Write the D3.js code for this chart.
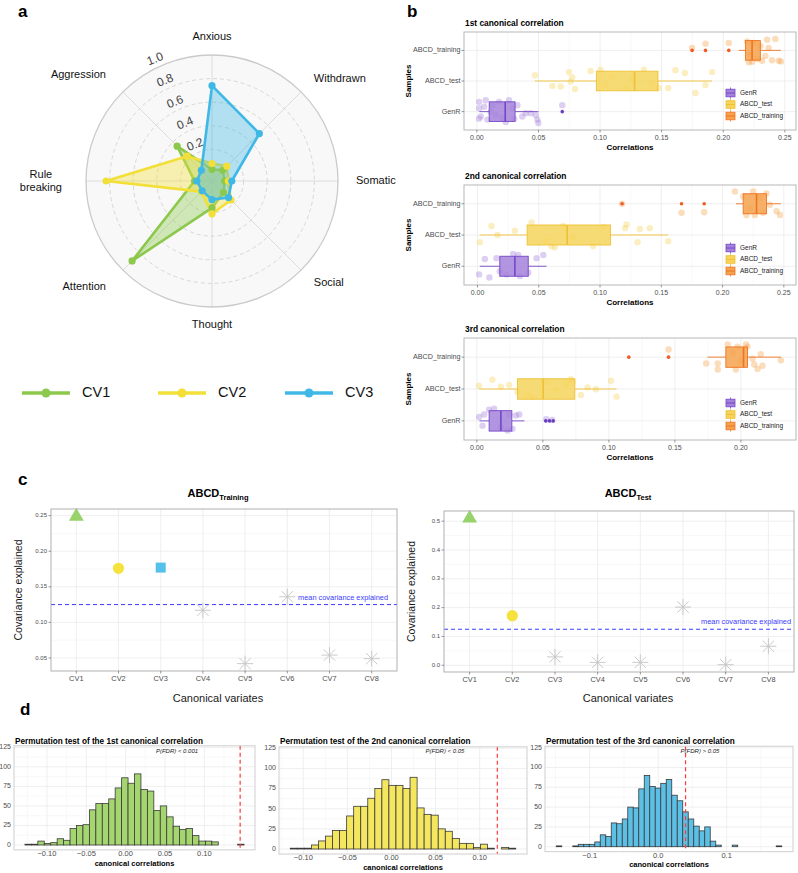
<!DOCTYPE html>
<html>
<head>
<meta charset="utf-8">
<script src="https://cdn.jsdelivr.net/npm/d3@7/dist/d3.min.js"></script>
<style>
html,body{margin:0;padding:0;background:#fff;}
svg{display:block;font-family:"Liberation Sans",Arial,Helvetica,sans-serif;}
</style>
</head>
<body>
<svg id="fig" width="798" height="873"></svg>
<script>
// ================= DATA =================
// (a) radar loadings
const radarAxes = ["Anxious","Withdrawn","Somatic","Social","Thought","Attention","Rule breaking","Aggression"];
const radarCV1 = [0.03,0.06,0.04,0.07,0.16,0.89,0.08,0.35];
const radarCV2 = [0.08,0.11,0.07,0.16,0.21,0.06,0.83,0.23];
const radarCV3 = [0.74,0.50,0.10,0.13,0.09,0.05,0.06,0.06];
const radarTicks = [0.2,0.4,0.6,0.8,1.0];
const radarSeries = ["CV1","CV2","CV3"];

// (b) canonical correlations by sample
const sampleGroups = ["GenR","ABCD_test","ABCD_training"];
const ccTitles = ["1st canonical correlation","2nd canonical correlation","3rd canonical correlation"];
// box stats: [whiskerLow, Q1, median, Q3, whiskerHigh], order = sampleGroups
const cc1Box = [[0.002,0.010,0.023,0.031,0.050],[0.047,0.097,0.128,0.147,0.191],[0.2126,0.218,0.2234,0.2301,0.2468]];
const cc2Box = [[0.0019,0.0182,0.0305,0.0414,0.0563],[0.0019,0.0405,0.0732,0.1086,0.1556],[0.2109,0.2168,0.2277,0.2358,0.2476]];
const cc3Box = [[0.002,0.0093,0.0182,0.0265,0.036],[0.0017,0.0308,0.0502,0.0742,0.1058],[0.1747,0.1886,0.2020,0.2050,0.2303]];
const cc1Outliers = [[0.0693],[],[0.1747,0.1856,0.2045]];
const cc2Outliers = [[],[],[0.1180,0.1665,0.1850]];
const cc3Outliers = [[0.0522,0.0550,0.0578],[],[0.1151,0.1452]];
// jittered observations: [correlation, vertical jitter in category steps]
const cc1Points = [
 [[.0018,-.32],[.0018,-.11],[.0032,.16],[.0018,.23],[.0072,-.37],[.0086,.26],[.0126,-.21],[.0153,.11],[.0180,-.32],[.0207,.21],[.0234,.34],[.0261,-.37],[.0288,-.11],[.0302,.23],[.0329,-.21],[.0369,.16],[.0396,.05],[.0437,.05],[.0477,.11],[.0491,.26],[.0499,.37],[.0693,-.21],[.0113,0],[.0059,-.16]],
 [[.0472,-.19],[.0748,-.29],[.0775,-.12],[.0761,.02],[.0613,.16],[.0680,.18],[.0797,.26],[.0923,-.33],[.1004,-.37],[.1099,-.14],[.1261,-.05],[.1356,-.37],[.1423,.07],[.1477,.23],[.1553,.23],[.1612,-.35],[.1688,-.26],[.1774,.39],[.1856,.13],[.1910,-.29],[.1207,.23],[.1045,.13]],
 [[.1747,-.08],[.1856,-.22],[.2045,-.24],[.2194,-.29],[.2207,.39],[.2234,.37],[.2275,.28],[.2315,.34],[.2356,-.35],[.2369,-.08],[.2396,.32],[.2423,-.37],[.2450,.34],[.2468,.36],[.2248,-.24],[.2302,-.14],[.2221,.13],[.2342,.18]]
];
const cc2Points = [
 [[.0060,-.23],[.0155,-.26],[.0291,-.39],[.0332,-.36],[.0482,-.26],[.0537,-.36],[.0013,.26],[.0097,.36],[.0182,.16],[.0236,.26],[.0414,.21],[.0346,.31]],
 [[.0019,.23],[.0114,-.29],[.0163,0],[.0305,-.14],[.0441,-.40],[.0604,.36],[.0631,.39],[.0699,-.29],[.0780,.07],[.0944,.36],[.1031,-.26],[.1216,-.34],[.1205,-.22],[.1306,.23],[.1325,-.19],[.1406,-.22],[.1556,.20],[.0563,.18]],
 [[.2101,-.39],[.2168,-.23],[.2250,-.39],[.2358,-.33],[.2386,.03],[.2441,.24],[.2468,.36],[.2195,.36],[.2263,.36],[.2331,.29],[.2222,.14],[.2304,-.18],[.1665,.29],[.1850,.27],[.1180,0]]
];
const cc3Points = [
 [[.0093,-.35],[.0131,-.38],[.0017,-.12],[.0055,-.20],[.0245,-.19],[.0295,-.17],[.0321,-.20],[.0182,.2],[.0232,.3],[.0043,.15],[.0270,.25],[.0526,-.05],[.0571,-.03]],
 [[.0017,-.10],[.0118,-.29],[.0182,-.07],[.0245,-.13],[.0308,.09],[.0384,.19],[.0422,.24],[.0523,-.23],[.0599,.03],[.0675,-.16],[.0712,-.31],[.0725,-.23],[.0788,.19],[.0839,-.05],[.0902,.01],[.1016,-.26],[.1058,.24]],
 [[.1452,-.24],[.1737,.20],[.1825,.20],[.1825,.39],[.1900,-.40],[.1937,-.14],[.1975,-.33],[.2038,-.40],[.2050,-.33],[.2088,.05],[.2101,.23],[.2126,.37],[.2151,-.09],[.2164,.27],[.2303,.10],[.1962,.39],[.2000,.13]]
];
const cc12Ticks = [0,0.05,0.10,0.15,0.20,0.25];
const cc3Ticks = [0,0.05,0.10,0.15,0.20];

// (c) covariance explained
const cvLabels = ["CV1","CV2","CV3","CV4","CV5","CV6","CV7","CV8"];
const covTraining = [0.249,0.176,0.177,0.117,0.042,0.136,0.054,0.049];
const covTest = [0.510,0.172,0.029,0.010,0.010,0.202,0.002,0.066];
const trainingShapes = ["triangle","circle","square","star","star","star","star","star"];
const testShapes = ["triangle","circle","star","star","star","star","star","star"];
const meanCovariance = 0.125;
const covTrainTicks = [0.05,0.10,0.15,0.20,0.25];
const covTestTicks = [0.0,0.1,0.2,0.3,0.4,0.5];

// (d) permutation distributions (1000 permutations each)
const permTitles = ["Permutation test of the 1st canonical correlation","Permutation test of the 2nd canonical correlation","Permutation test of the 3rd canonical correlation"];
const perm1Start = -0.128, perm1Width = 0.00819;
const perm1Counts = [1,1,5,2,3,8,6,21,25,26,45,53,53,59,73,86,79,91,71,69,44,50,36,24,20,21,12,5,5,4,0,0,0,1];
const perm2Start = -0.1148, perm2Width = 0.00799;
const perm2Counts = [1,1,1,5,10,16,23,23,41,53,53,63,75,86,79,79,75,89,51,43,42,25,22,13,7,7,2,6,1,0,2,1];
const perm3Start = -0.1488, perm3Width = 0.00803;
const perm3Counts = [1,0,0,1,3,3,3,6,15,13,30,29,35,50,49,73,90,76,74,80,85,65,58,44,35,26,20,25,7,2,0,0,2,0,0,0,0,0,0,0,1];
const permObserved = [0.1455,0.120,0.040];
const permPLabels = ["P(FDR) < 0.001","P(FDR) < 0.05","P(FDR) > 0.05"];
const perm12Ticks = [-0.10,-0.05,0,0.05,0.10];
const perm3Ticks = [-0.1,0,0.1];
const countTicks = [0,25,50,75,100,125];

// ================= STYLE =================
const svg = d3.select("#fig");
const CV_COL = ["#8cc84b","#f2df38","#3fb8e6"];
const GRP_FILL = ["#a582da","#f5d35c","#f5a24c"];
const GRP_STROKE = ["#7446c6","#efc133","#ef7424"];
const GRP_OUT = ["#6a3ec0","#e8b21e","#f05a24"];
const AXIS_TXT = "#4d4d4d";
const GRID = "#ebebeb", GRID_MINOR = "#f4f4f4";

function txt(g, x, y, s, o = {}) {
  const t = g.append("text").attr("x", x).attr("y", y).text(s)
    .attr("font-size", o.size || 10).attr("fill", o.fill || "#000")
    .attr("text-anchor", o.anchor || "start");
  if (o.weight) t.attr("font-weight", o.weight);
  if (o.style) t.attr("font-style", o.style);
  if (o.base) t.attr("dominant-baseline", o.base);
  if (o.rotate !== undefined) t.attr("transform", `rotate(${o.rotate},${x},${y})`);
  return t;
}

// panel letters
txt(svg, 18, 17, "a", {size: 17, weight: "bold"});
txt(svg, 407, 17, "b", {size: 17, weight: "bold"});
txt(svg, 18, 485, "c", {size: 17, weight: "bold"});
txt(svg, 20, 715, "d", {size: 17, weight: "bold"});

// ================= (a) RADAR =================
(function () {
  const g = svg.append("g");
  const cx = 212, cy = 181, R = 126;
  const r = d3.scaleLinear().domain([0, 1]).range([8, R]);
  const n = radarAxes.length;
  const ang = i => i * 2 * Math.PI / n;
  g.append("circle").attr("cx", cx).attr("cy", cy).attr("r", r(1))
    .attr("fill", "#f8f8f8").attr("stroke", "none");
  radarTicks.slice(0, -1).forEach(t => {
    g.append("circle").attr("cx", cx).attr("cy", cy).attr("r", r(t))
      .attr("fill", "none").attr("stroke", "#d2d2d2").attr("stroke-width", 0.9)
      .attr("stroke-dasharray", "4,3");
  });
  radarAxes.forEach((d, i) => {
    g.append("line").attr("x1", cx).attr("y1", cy)
      .attr("x2", cx + r(1) * Math.sin(ang(i))).attr("y2", cy - r(1) * Math.cos(ang(i)))
      .attr("stroke", "#dcdcdc").attr("stroke-width", 1);
  });
  g.append("circle").attr("cx", cx).attr("cy", cy).attr("r", r(1))
    .attr("fill", "none").attr("stroke", "#cacaca").attr("stroke-width", 1.3);
  // tick labels
  const ta = -25 * Math.PI / 180;
  radarTicks.forEach(t => {
    const rr = r(t) + 8;
    const x = cx + rr * Math.sin(ta), y = cy - rr * Math.cos(ta);
    txt(g, x, y, d3.format(".1f")(t), {size: 12, fill: "#444", anchor: "middle", base: "middle", rotate: -22});
  });
  // series
  const series = [radarCV1, radarCV2, radarCV3];
  const line = d3.lineRadial().angle((d, i) => ang(i)).radius(d => r(d)).curve(d3.curveLinearClosed);
  series.forEach((s, k) => {
    g.append("path").attr("d", line(s)).attr("transform", `translate(${cx},${cy})`)
      .attr("fill", CV_COL[k]).attr("fill-opacity", 0.38)
      .attr("stroke", CV_COL[k]).attr("stroke-width", 2.6).attr("stroke-linejoin", "round");
  });
  series.forEach((s, k) => {
    g.selectAll(null).data(s).enter().append("circle")
      .attr("cx", (d, i) => cx + r(d) * Math.sin(ang(i)))
      .attr("cy", (d, i) => cy - r(d) * Math.cos(ang(i)))
      .attr("r", 3.6).attr("fill", CV_COL[k]);
  });
  // axis labels
  radarAxes.forEach((lab, i) => {
    const s = Math.sin(ang(i)), c = Math.cos(ang(i));
    const left = s < -0.1, right = s > 0.1;
    const rl = left ? R + 24 : R + 18;
    const x = cx + rl * s, y = cy - rl * c;
    const parts = lab.split(" ");
    if (parts.length > 1 && left) {
      const t = g.append("text").attr("font-size", 11).attr("text-anchor", "middle").attr("fill", "#111");
      parts.forEach((p, j) => t.append("tspan").attr("x", 0).attr("y", y + (j - (parts.length - 1) / 2) * 13).attr("dy", "0.35em").text(p));
      const w = d3.max(t.selectAll("tspan").nodes(), nd => nd.getComputedTextLength());
      t.selectAll("tspan").attr("x", x - w / 2);
    } else {
      txt(g, x, y, lab, {size: 11, fill: "#111", anchor: left ? "end" : (right ? "start" : "middle"), base: "middle"});
    }
  });
  // legend
  const lx = [22, 158, 285], ly = 393;
  radarSeries.forEach((nm, k) => {
    g.append("line").attr("x1", lx[k]).attr("x2", lx[k] + 48).attr("y1", ly).attr("y2", ly)
      .attr("stroke", CV_COL[k]).attr("stroke-width", 3.5);
    g.append("circle").attr("cx", lx[k] + 24).attr("cy", ly).attr("r", 4.5).attr("fill", CV_COL[k]);
    txt(g, lx[k] + 60, ly, nm, {size: 14.5, fill: "#111", base: "middle"});
  });
})();

// ================= (b) BOX PLOTS =================
function drawBoxChart(title, top, bottom, boxes, outliers, points, ticks) {
  const g = svg.append("g");
  const left = 464, right = 796;
  const all = [].concat(...boxes, ...outliers, ...points.map(gp => gp.map(p => p[0])));
  const ext = d3.extent(all), pad = (ext[1] - ext[0]) * 0.05;
  const x = d3.scaleLinear().domain([ext[0] - pad, ext[1] + pad]).range([left, right]);
  const y = d3.scalePoint().domain(sampleGroups.slice().reverse()).range([top, bottom]).padding(0.6);
  const step = y.step();
  // grid
  ticks.forEach((t, i) => {
    if (i < ticks.length - 1) {
      const m = (t + ticks[i + 1]) / 2;
      g.append("line").attr("x1", x(m)).attr("x2", x(m)).attr("y1", top).attr("y2", bottom).attr("stroke", GRID_MINOR).attr("stroke-width", 0.6);
    }
    g.append("line").attr("x1", x(t)).attr("x2", x(t)).attr("y1", top).attr("y2", bottom).attr("stroke", GRID).attr("stroke-width", 0.8);
  });
  sampleGroups.forEach(s => g.append("line").attr("x1", left).attr("x2", right).attr("y1", y(s)).attr("y2", y(s)).attr("stroke", GRID).attr("stroke-width", 0.8));
  // jitter points
  points.forEach((gp, k) => {
    g.selectAll(null).data(gp).enter().append("circle")
      .attr("cx", d => x(d[0])).attr("cy", d => y(sampleGroups[k]) + d[1] * step)
      .attr("r", 3.2).attr("fill", GRP_FILL[k]).attr("fill-opacity", 0.38);
  });
  // boxes
  const bh = step * 0.32;
  boxes.forEach((b, k) => {
    const cy = y(sampleGroups[k]);
    g.append("line").attr("x1", x(b[0])).attr("x2", x(b[1])).attr("y1", cy).attr("y2", cy).attr("stroke", GRP_STROKE[k]).attr("stroke-width", 0.9);
    g.append("line").attr("x1", x(b[3])).attr("x2", x(b[4])).attr("y1", cy).attr("y2", cy).attr("stroke", GRP_STROKE[k]).attr("stroke-width", 0.9);
    g.append("rect").attr("x", x(b[1])).attr("y", cy - bh).attr("width", x(b[3]) - x(b[1])).attr("height", 2 * bh)
      .attr("fill", GRP_FILL[k]).attr("fill-opacity", 0.85).attr("stroke", GRP_STROKE[k]).attr("stroke-width", 0.9);
    g.append("line").attr("x1", x(b[2])).attr("x2", x(b[2])).attr("y1", cy - bh).attr("y2", cy + bh).attr("stroke", GRP_STROKE[k]).attr("stroke-width", 1.6);
    outliers[k].forEach(o => g.append("circle").attr("cx", x(o)).attr("cy", cy).attr("r", 1.8).attr("fill", GRP_OUT[k]));
  });
  // border
  g.append("rect").attr("x", left).attr("y", top).attr("width", right - left).attr("height", bottom - top)
    .attr("fill", "none").attr("stroke", "#b0b0b0").attr("stroke-width", 0.9);
  // axes
  ticks.forEach(t => {
    g.append("line").attr("x1", x(t)).attr("x2", x(t)).attr("y1", bottom).attr("y2", bottom + 2.5).attr("stroke", "#555").attr("stroke-width", 0.6);
    txt(g, x(t), bottom + 10, d3.format(".2f")(t), {size: 7, fill: AXIS_TXT, anchor: "middle"});
  });
  sampleGroups.forEach(s => {
    g.append("line").attr("x1", left - 2.5).attr("x2", left).attr("y1", y(s)).attr("y2", y(s)).attr("stroke", "#555").attr("stroke-width", 0.6);
    txt(g, left - 3.5, y(s), s, {size: 7.2, fill: AXIS_TXT, anchor: "end", base: "middle"});
  });
  txt(g, (left + right) / 2, bottom + 20, "Correlations", {size: 8, weight: "bold", anchor: "middle"});
  txt(g, 411, (top + bottom) / 2, "Samples", {size: 8, weight: "bold", anchor: "middle", rotate: -90});
  txt(g, left + 1, top - 6, title, {size: 8.4, weight: "bold"});
  // legend
  const lgX = 726, lgY = [bottom - 37, bottom - 25.5, bottom - 14];
  sampleGroups.forEach((s, k) => {
    const yy = lgY[k];
    g.append("line").attr("x1", lgX + 4.5).attr("x2", lgX + 4.5).attr("y1", yy - 5.5).attr("y2", yy + 5.5).attr("stroke", GRP_STROKE[k]).attr("stroke-width", 0.8);
    g.append("rect").attr("x", lgX).attr("y", yy - 3.8).attr("width", 9).attr("height", 7.6)
      .attr("fill", GRP_FILL[k]).attr("stroke", GRP_STROKE[k]).attr("stroke-width", 0.8);
    g.append("line").attr("x1", lgX).attr("x2", lgX + 9).attr("y1", yy).attr("y2", yy).attr("stroke", GRP_STROKE[k]).attr("stroke-width", 1);
    txt(g, lgX + 14, yy, s, {size: 6.5, fill: "#222", base: "middle"});
  });
}
drawBoxChart(ccTitles[0], 32, 130, cc1Box, cc1Outliers, cc1Points, cc12Ticks);
drawBoxChart(ccTitles[1], 185, 285, cc2Box, cc2Outliers, cc2Points, cc12Ticks);
drawBoxChart(ccTitles[2], 338, 440, cc3Box, cc3Outliers, cc3Points, cc3Ticks);

// ================= (c) COVARIANCE =================
function drawCov(values, shapes, ticks, fmt, L, titleSub, titleX, meanLabelRight) {
  const g = svg.append("g");
  const {left, right, top, bottom} = L;
  const ext = d3.extent(values), pad = (ext[1] - ext[0]) * 0.05;
  const y = d3.scaleLinear().domain([ext[0] - pad, ext[1] + pad]).range([bottom, top]);
  const x = d3.scalePoint().domain(cvLabels).range([left, right]).padding(0.6);
  // grid
  ticks.forEach((t, i) => {
    if (i < ticks.length - 1) {
      const m = (t + ticks[i + 1]) / 2;
      g.append("line").attr("x1", left).attr("x2", right).attr("y1", y(m)).attr("y2", y(m)).attr("stroke", GRID_MINOR).attr("stroke-width", 0.6);
    }
    if (i === 0) {
      const m = t - (ticks[1] - ticks[0]) / 2;
      if (y(m) < bottom) g.append("line").attr("x1", left).attr("x2", right).attr("y1", y(m)).attr("y2", y(m)).attr("stroke", GRID_MINOR).attr("stroke-width", 0.6);
    }
    g.append("line").attr("x1", left).attr("x2", right).attr("y1", y(t)).attr("y2", y(t)).attr("stroke", GRID).attr("stroke-width", 0.8);
  });
  cvLabels.forEach(c => g.append("line").attr("x1", x(c)).attr("x2", x(c)).attr("y1", top).attr("y2", bottom).attr("stroke", GRID).attr("stroke-width", 0.8));
  // mean line
  g.append("line").attr("x1", left).attr("x2", right).attr("y1", y(meanCovariance)).attr("y2", y(meanCovariance))
    .attr("stroke", "#3b3bff").attr("stroke-width", 1).attr("stroke-dasharray", "4,3");
  txt(g, meanLabelRight, y(meanCovariance) - 5, "mean covariance explained", {size: 7.4, fill: "#3b3bff", anchor: "end"});
  // points
  values.forEach((v, i) => {
    const px = x(cvLabels[i]), py = y(v), sh = shapes[i];
    if (sh === "star") {
      [0, 45, 90, 135].forEach(a => {
        const t = a * Math.PI / 180, rr = 8;
        g.append("line").attr("x1", px - rr * Math.cos(t)).attr("y1", py - rr * Math.sin(t))
          .attr("x2", px + rr * Math.cos(t)).attr("y2", py + rr * Math.sin(t))
          .attr("stroke", "#c4c4c4").attr("stroke-width", 0.9);
      });
    } else {
      const type = sh === "triangle" ? d3.symbolTriangle : (sh === "circle" ? d3.symbolCircle : d3.symbolSquare);
      const size = sh === "triangle" ? 95 : (sh === "circle" ? 100 : 100);
      const col = sh === "triangle" ? "#97d26a" : (sh === "circle" ? "#f5e23c" : "#55c1ea");
      g.append("path").attr("d", d3.symbol().type(type).size(size)()).attr("transform", `translate(${px},${py})`).attr("fill", col);
    }
  });
  g.append("rect").attr("x", left).attr("y", top).attr("width", right - left).attr("height", bottom - top)
    .attr("fill", "none").attr("stroke", "#a8a8a8").attr("stroke-width", 0.9);
  ticks.forEach(t => {
    g.append("line").attr("x1", left - 2.5).attr("x2", left).attr("y1", y(t)).attr("y2", y(t)).attr("stroke", "#555").attr("stroke-width", 0.6);
    txt(g, left - 4, y(t), d3.format(fmt)(t), {size: 6, fill: AXIS_TXT, anchor: "end", base: "middle"});
  });
  cvLabels.forEach(c => {
    g.append("line").attr("x1", x(c)).attr("x2", x(c)).attr("y1", bottom).attr("y2", bottom + 2.5).attr("stroke", "#555").attr("stroke-width", 0.6);
    txt(g, x(c), bottom + 10, c, {size: 7.4, fill: AXIS_TXT, anchor: "middle"});
  });
  txt(g, titleX, 702, "Canonical variates", {size: 11, fill: "#1a1a1a", anchor: "middle"});
  txt(g, left - 29, (top + bottom) / 2, "Covariance explained", {size: 10.5, fill: "#1a1a1a", anchor: "middle", rotate: -90});
  const t = g.append("text").attr("x", titleX).attr("y", 497).attr("text-anchor", "middle").attr("font-weight", "bold");
  t.append("tspan").attr("font-size", 11).text("ABCD");
  t.append("tspan").attr("font-size", 7.5).attr("dy", 3).text(titleSub);
}
drawCov(covTraining, trainingShapes, covTrainTicks, ".2f", {left: 51, right: 397, top: 509, bottom: 671}, "Training", 218, 388);
drawCov(covTest, testShapes, covTestTicks, ".1f", {left: 444, right: 794, top: 511, bottom: 672}, "Test", 628, 791);

// ================= (d) HISTOGRAMS =================
function drawHist(title, start, width, counts, obs, plabel, ticks, fmt, L, col) {
  const g = svg.append("g");
  const {left, right, y0, y125} = L;
  const end = start + width * counts.length;
  const pad = (end - start) * 0.05;
  const x = d3.scaleLinear().domain([start - pad, end + pad]).range([left, right]);
  const y = d3.scaleLinear().domain([0, 125]).range([y0, y125]);
  const top = y125 - 1.5, bottom = y(-6.25);
  // grid
  ticks.forEach((t, i) => {
    if (i < ticks.length - 1) {
      const m = (t + ticks[i + 1]) / 2;
      g.append("line").attr("x1", x(m)).attr("x2", x(m)).attr("y1", top).attr("y2", bottom).attr("stroke", GRID_MINOR).attr("stroke-width", 0.6);
    }
    g.append("line").attr("x1", x(t)).attr("x2", x(t)).attr("y1", top).attr("y2", bottom).attr("stroke", GRID).attr("stroke-width", 0.8);
  });
  const lo = ticks[0] - (ticks[1] - ticks[0]) / 2, hi = ticks[ticks.length - 1] + (ticks[1] - ticks[0]) / 2;
  [lo, hi].forEach(m => { if (x(m) > left && x(m) < right) g.append("line").attr("x1", x(m)).attr("x2", x(m)).attr("y1", top).attr("y2", bottom).attr("stroke", GRID_MINOR).attr("stroke-width", 0.6); });
  countTicks.forEach((t, i) => {
    if (i < countTicks.length - 1) {
      const m = t + 12.5;
      g.append("line").attr("x1", left).attr("x2", right).attr("y1", y(m)).attr("y2", y(m)).attr("stroke", GRID_MINOR).attr("stroke-width", 0.6);
    }
    g.append("line").attr("x1", left).attr("x2", right).attr("y1", y(t)).attr("y2", y(t)).attr("stroke", GRID).attr("stroke-width", 0.8);
  });
  // bars
  g.selectAll(null).data(counts).enter().append("rect")
    .attr("x", (d, i) => x(start + i * width)).attr("width", (d, i) => x(start + (i + 1) * width) - x(start + i * width))
    .attr("y", d => y(d)).attr("height", d => y(0) - y(d))
    .attr("fill", col).attr("stroke", "#3a3a3a").attr("stroke-width", 0.8);
  // observed line
  g.append("line").attr("x1", x(obs)).attr("x2", x(obs)).attr("y1", top).attr("y2", bottom)
    .attr("stroke", "#ff3b3b").attr("stroke-width", 1.2).attr("stroke-dasharray", "4,3");
  g.append("rect").attr("x", left).attr("y", top).attr("width", right - left).attr("height", bottom - top)
    .attr("fill", "none").attr("stroke", "#cfcfcf").attr("stroke-width", 1);
  // labels
  txt(g, left + 1, 743.5, title, {size: 8.2, weight: "bold"});
  txt(g, L.pX, 753, plabel, {size: 6, style: "italic", fill: "#222", anchor: "middle"});
  countTicks.forEach(t => txt(g, left - 3, y(t), String(t), {size: 7, fill: AXIS_TXT, anchor: "end", base: "middle"}));
  ticks.forEach(t => txt(g, x(t), y0 + 9.5, d3.format(fmt)(t), {size: 7.5, fill: AXIS_TXT, anchor: "middle", base: "middle"}));
  txt(g, (left + right) / 2, y0 + 20.5, "canonical correlations", {size: 7.5, weight: "bold", anchor: "middle"});
}
drawHist(permTitles[0], perm1Start, perm1Width, perm1Counts, permObserved[0], permPLabels[0], perm12Ticks, ".2f", {left: 14, right: 255, y0: 845, y125: 747.3, pX: 177}, "#a4d56f");
drawHist(permTitles[1], perm2Start, perm2Width, perm2Counts, permObserved[1], permPLabels[1], perm12Ticks, ".2f", {left: 279, right: 527, y0: 849, y125: 748.3, pX: 445}, "#f5e660");
drawHist(permTitles[2], perm3Start, perm3Width, perm3Counts, permObserved[2], permPLabels[2], perm3Ticks, ".1f", {left: 545, right: 793, y0: 846.7, y125: 747.7, pX: 700}, "#5cc0e6");
</script>
</body>
</html>
